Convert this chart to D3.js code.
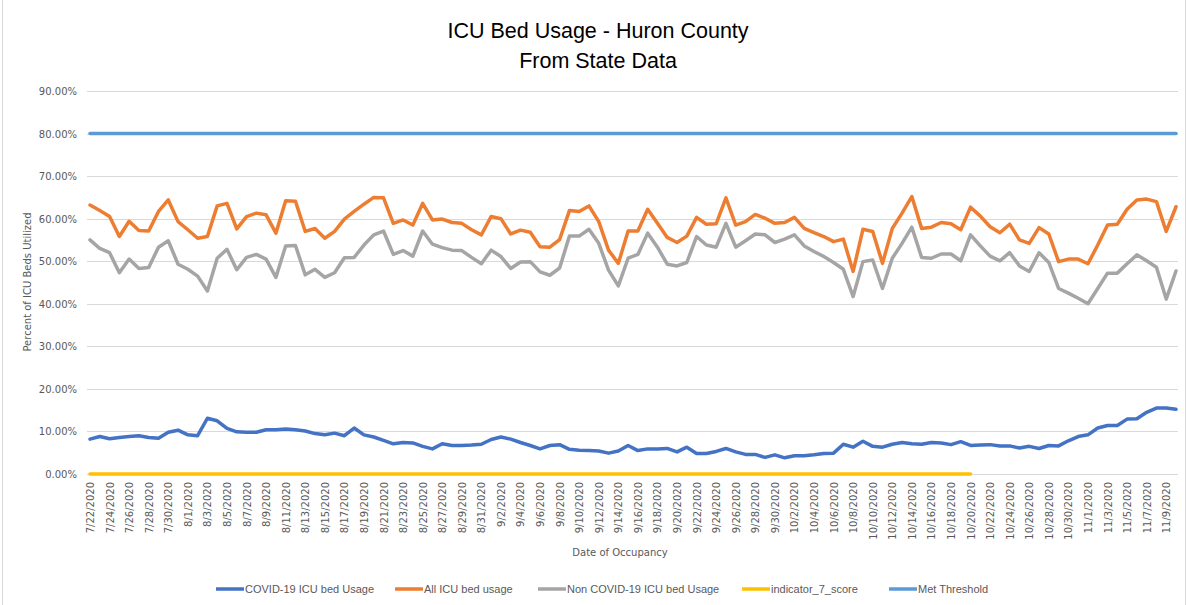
<!DOCTYPE html>
<html>
<head>
<meta charset="utf-8">
<script src="https://cdn.jsdelivr.net/npm/d3@7"></script>
<style>
  html, body { margin: 0; padding: 0; background: #fff; }
  svg { display: block; }
</style>
</head>
<body>
<svg id="chart" width="1188" height="605"></svg>
<script>
// ---------------- DATA ----------------
const startDate = "2020-07-22";
const dayCount = 112; // 7/22/2020 .. 11/10/2020

const covidUsage = [8.2,8.8,8.3,8.6,8.8,9.0,8.6,8.4,9.8,10.3,9.2,9.0,13.1,12.5,10.7,9.9,9.8,9.8,10.4,10.4,
  10.6,10.4,10.1,9.5,9.2,9.6,9.0,10.8,9.2,8.7,7.9,7.1,7.4,7.3,6.5,5.9,7.1,6.7,6.7,6.8,
  7.0,8.1,8.7,8.2,7.4,6.7,5.9,6.7,6.9,5.8,5.6,5.5,5.4,4.9,5.4,6.7,5.5,5.9,5.9,6.0,
  5.2,6.3,4.8,4.8,5.3,6.0,5.2,4.6,4.6,3.9,4.5,3.8,4.3,4.3,4.5,4.8,4.9,7.0,6.3,7.7,
  6.5,6.3,7.0,7.4,7.1,7.0,7.4,7.3,6.9,7.6,6.7,6.8,6.9,6.6,6.6,6.1,6.5,6.0,6.7,6.6,
  7.8,8.8,9.2,10.8,11.4,11.4,12.9,13.0,14.5,15.5,15.5,15.2];

const allUsage = [63.2,61.9,60.5,55.8,59.4,57.2,57.1,61.7,64.4,59.3,57.4,55.4,55.8,63.0,63.6,57.6,60.5,61.3,60.9,56.6,
  64.2,64.1,57.0,57.7,55.4,57.0,59.9,61.7,63.4,65.0,64.9,58.9,59.7,58.5,63.6,59.7,59.9,59.1,58.9,57.4,
  56.2,60.5,60.0,56.4,57.3,56.8,53.4,53.3,55.1,61.9,61.7,63.0,59.3,52.6,49.5,57.1,57.1,62.2,58.9,55.6,
  54.4,55.9,60.3,58.7,58.8,64.9,58.5,59.3,61.0,60.1,58.9,59.1,60.3,57.7,56.7,55.8,54.6,55.2,47.6,57.5,
  57.0,49.5,57.7,61.3,65.2,57.7,58.0,59.1,58.8,57.4,62.7,60.6,58.1,56.7,58.7,55.0,54.2,57.9,56.4,49.9,
  50.5,50.5,49.4,53.8,58.5,58.7,62.2,64.4,64.6,64.0,57.0,62.8];

const nonCovidUsage = [55.0,53.0,52.0,47.3,50.5,48.3,48.5,53.3,54.8,49.3,48.1,46.5,43.0,50.7,52.8,48.0,50.9,51.6,50.5,46.2,
  53.6,53.7,46.8,48.1,46.2,47.3,50.8,50.9,53.8,56.2,57.1,51.6,52.5,51.2,57.1,54.0,53.2,52.6,52.5,50.9,
  49.4,52.6,51.1,48.3,49.8,49.9,47.5,46.7,48.4,55.9,55.9,57.5,54.2,47.9,44.2,50.7,51.6,56.6,53.3,49.3,
  48.9,49.7,55.8,53.8,53.3,58.9,53.3,54.8,56.4,56.2,54.4,55.2,56.2,53.6,52.3,51.1,49.7,48.1,41.7,49.9,
  50.3,43.6,50.7,54.2,58.0,50.9,50.7,51.7,51.7,50.1,56.2,53.6,51.2,50.1,52.0,48.9,47.6,52.0,49.7,43.6,
  42.5,41.3,40.0,43.6,47.2,47.2,49.4,51.5,50.1,48.6,41.1,47.7];

const indicatorDays = 91;   // indicator_7_score = 0 from 7/22 through 10/20
const indicatorValue = 0;
const thresholdValue = 80;

const yTicks = [0,10,20,30,40,50,60,70,80,90];
const seriesNames = ["COVID-19 ICU bed Usage","All ICU bed usage","Non COVID-19 ICU bed Usage","indicator_7_score","Met Threshold"];
const seriesColors = ["#4472C4","#ED7D31","#A5A5A5","#FFC000","#5B9BD5"];

// ---------------- BUILD ----------------
const parse = d3.timeParse("%Y-%m-%d");
const fmtLabel = d => (d.getMonth()+1) + "/" + d.getDate() + "/" + d.getFullYear();
const dates = d3.range(dayCount).map(i => d3.timeDay.offset(parse(startDate), i));
const cats = dates.map(fmtLabel);

const svg = d3.select("#chart");
const W = 1188, H = 605;

// chart area border
svg.append("rect").attr("x", 2.5).attr("y", -2).attr("width", W - 5).attr("height", H + 4)
  .attr("fill", "none").attr("stroke", "#d9d9d9").attr("stroke-width", 1);

const plot = { left: 87, right: 1178, top: 91, bottom: 474 };

const x = d3.scalePoint().domain(cats).range([90, 1176]);
const y = d3.scaleLinear().domain([0, 90]).range([plot.bottom, plot.top]);

// gridlines
svg.append("g").selectAll("line").data(yTicks).join("line")
  .attr("x1", plot.left).attr("x2", plot.right)
  .attr("y1", d => Math.round(y(d)) + 0.5).attr("y2", d => Math.round(y(d)) + 0.5)
  .attr("stroke", "#d9d9d9").attr("stroke-width", 1);

// y axis labels
const yAxis = d3.axisLeft(y).tickValues(yTicks).tickSize(0).tickPadding(0)
  .tickFormat(d => d3.format(".2f")(d) + "%");
const gy = svg.append("g").attr("transform", "translate(77,0)").call(yAxis);
gy.select(".domain").remove();
gy.selectAll("text").attr("fill", "#595959").attr("font-family", "DejaVu Sans, Verdana, sans-serif")
  .attr("font-size", "10px").attr("dy", "0.35em");

// x axis labels
const xTickVals = cats.filter((c, i) => i % 2 === 0);
const xAxis = d3.axisBottom(x).tickValues(xTickVals).tickSize(0).tickPadding(0);
const gx = svg.append("g").attr("transform", `translate(0,${plot.bottom})`).call(xAxis);
gx.select(".domain").remove();
gx.selectAll("text")
  .attr("fill", "#595959").attr("font-family", "DejaVu Sans, Verdana, sans-serif").attr("font-size", "10px")
  .attr("transform", "rotate(-90)")
  .attr("x", -8).attr("y", 0).attr("dy", "0.35em")
  .attr("text-anchor", "end");

// lines
const line = d3.line().x((d, i) => x(cats[i])).y(d => y(d));
const lineSeries = [
  { vals: covidUsage, color: seriesColors[0] },
  { vals: allUsage, color: seriesColors[1] },
  { vals: nonCovidUsage, color: seriesColors[2] },
  { vals: d3.range(indicatorDays).map(() => indicatorValue), color: seriesColors[3] },
  { vals: d3.range(dayCount).map(() => thresholdValue), color: seriesColors[4] }
];
svg.append("g").selectAll("path").data(lineSeries).join("path")
  .attr("d", s => line(s.vals))
  .attr("fill", "none").attr("stroke", s => s.color)
  .attr("stroke-width", 3.5).attr("stroke-linejoin", "round").attr("stroke-linecap", "round");

// titles
const title = svg.append("text").attr("x", 598).attr("text-anchor", "middle")
  .attr("font-family", "Liberation Sans, Arial, sans-serif").attr("font-size", "21.5px").attr("fill", "#000");
title.append("tspan").attr("x", 598).attr("y", 38).text("ICU Bed Usage - Huron County");
title.append("tspan").attr("x", 598).attr("y", 68).text("From State Data");

svg.append("text").attr("transform", "translate(31,282) rotate(-90)").attr("text-anchor", "middle")
  .attr("font-family", "DejaVu Sans, Verdana, sans-serif").attr("font-size", "10px").attr("fill", "#595959")
  .text("Percent of ICU Beds Utilized");

svg.append("text").attr("x", 620).attr("y", 556).attr("text-anchor", "middle")
  .attr("font-family", "DejaVu Sans, Verdana, sans-serif").attr("font-size", "10px").attr("fill", "#595959")
  .text("Date of Occupancy");

// legend
const legendX = [216, 395, 538, 742, 889];
const lg = svg.append("g").selectAll("g").data(seriesNames).join("g")
  .attr("transform", (d, i) => `translate(${legendX[i]},589)`);
lg.append("line").attr("x1", 0).attr("x2", 28).attr("y1", 0).attr("y2", 0)
  .attr("stroke", (d, i) => seriesColors[i]).attr("stroke-width", 3.5);
lg.append("text").attr("x", 29).attr("y", 0).attr("dy", "0.35em")
  .attr("font-family", "Liberation Sans Narrow, Liberation Sans, Arial, sans-serif").attr("font-size", "11px")
  .attr("fill", "#595959").text(d => d);
</script>
</body>
</html>
